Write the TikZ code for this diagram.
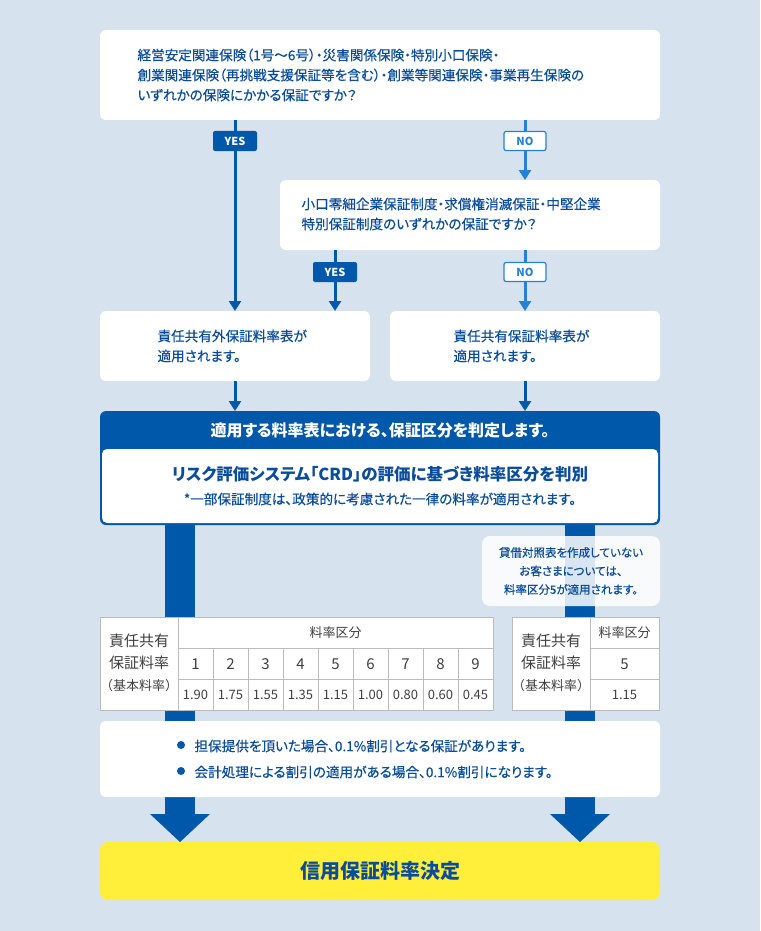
\documentclass[tikz,border=0pt]{standalone}
\usepackage{fontspec}
\setmainfont{Noto Sans CJK JP}[RawFeature=+palt,FakeBold=0.4,BoldFeatures={FakeBold=0}]
\newfontfamily\plainfont{Noto Sans CJK JP}
\usetikzlibrary{arrows.meta}
\definecolor{bg}{HTML}{D6E2EE}
\definecolor{db}{HTML}{0058AA}
\definecolor{lb}{HTML}{2580D8}
\definecolor{tb}{HTML}{0A4C9C}
\definecolor{yl}{HTML}{FFEF3A}
\definecolor{gr}{HTML}{BBBBBB}
\tikzset{
 wbox/.style={fill=white,rounded corners=6pt,draw=none},
 qtext/.style={text=tb,font=\fontsize{13.6}{20}\selectfont,align=left,anchor=west},
 darr/.style={draw=db,line width=3pt,-{Triangle[width=12pt,length=10pt]}},
 larr/.style={draw=lb,line width=3pt,-{Triangle[width=12pt,length=10pt]}},
 yestag/.style={fill=db,text=white,rounded corners=2pt,minimum width=44pt,minimum height=20pt,inner sep=0pt,font=\fontsize{11}{11}\selectfont\bfseries},
 notag/.style={fill=white,draw=lb,line width=1.2pt,text=lb,rounded corners=2pt,minimum width=42pt,minimum height=19pt,inner sep=0pt,font=\fontsize{11}{11}\selectfont\bfseries},
 cell/.style={draw=gr,fill=white,line width=0.8pt},
 ctext/.style={text=black!75,font=\plainfont\fontsize{15}{18}\selectfont,align=center},
 stext/.style={text=black!75,font=\plainfont\fontsize{13}{16}\selectfont,align=center},
}
\begin{document}
\begin{tikzpicture}[x=1pt,y=-1pt]
\fill[bg] (0,0) rectangle (760,931);
\useasboundingbox (0,0) rectangle (760,931);
% thick bars
\fill[db] (165,525) rectangle (195,815);
\fill[db] (565,525) rectangle (595,815);
\fill[db] (150,814) -- (210,814) -- (180,842) -- cycle;
\fill[db] (550,814) -- (610,814) -- (580,842) -- cycle;
% boxes
\fill[wbox] (100,30) rectangle (660,120);
\node[qtext] (q1) at (134,75) {経営安定関連保険（1号～6号）・災害関係保険・特別小口保険・\\創業関連保険（再挑戦支援保証等を含む）・創業等関連保険・事業再生保険の\\いずれかの保険にかかる保証ですか？};
\fill[wbox] (280,180) rectangle (660,250);
\node[qtext] (q2) at (298,214) {小口零細企業保証制度・求償権消滅保証・中堅企業\\特別保証制度のいずれかの保証ですか？};
\fill[wbox] (100,311) rectangle (370,381);
\node[qtext] (r1) at (154,346) {責任共有外保証料率表が\\適用されます。};
\fill[wbox] (390,311) rectangle (660,381);
\node[qtext] (r2) at (450,346) {責任共有保証料率表が\\適用されます。};
\coordinate (a1) at (235,120); \coordinate (a1e) at (235,311);
\coordinate (b1) at (525,120); \coordinate (b1e) at (525,180);
\coordinate (a2) at (335,250); \coordinate (a2e) at (335,311);
\coordinate (b2) at (525,250); \coordinate (b2e) at (525,311);
\coordinate (c1) at (235,381); \coordinate (c1e) at (235,411);
\coordinate (c2) at (525,381); \coordinate (c2e) at (525,411);
\draw[darr] (a1) -- (a1e);
\draw[larr] (b1) -- (b1e);
\draw[darr] (a2) -- (a2e);
\draw[larr] (b2) -- (b2e);
\draw[darr] (c1) -- (c1e);
\draw[darr] (c2) -- (c2e);
\node[yestag] (y1) at (235,141) {YES};
\node[notag] (n1) at (525,141) {NO};
\node[yestag] (y2) at (335,272) {YES};
\node[notag] (n2) at (525,272) {NO};
% judgement box
\fill[db,rounded corners=6pt] (100,411) rectangle (660,525);
\fill[white,rounded corners=5pt] (102,449) rectangle (658,523);
\node[text=white,font=\fontsize{16}{15}\selectfont\bfseries] (h) at (380,430) {適用する料率表における、保証区分を判定します。};
\node[text=tb,font=\fontsize{16.5}{15}\selectfont\bfseries] (h2) at (380,474) {リスク評価システム「CRD」の評価に基づき料率区分を判別};
\node[text=tb,font=\fontsize{13.6}{13}\selectfont] (h3) at (380,499) {*一部保証制度は、政策的に考慮された一律の料率が適用されます。};
% note
\fill[white,opacity=0.85,rounded corners=8pt] (482,536) rectangle (660,606);
\node[text=tb,font=\fontsize{11.5}{18.5}\selectfont,align=center] (note) at (571,571) {貸借対照表を作成していない\\お客さまについては、\\料率区分5が適用されます。};
% table 1
\draw[cell] (100,617) rectangle (178,710);
\node[ctext,font=\plainfont\fontsize{15}{22}\selectfont] (t1) at (139,663) {責任共有\\保証料率\\\fontsize{13}{22}\selectfont（基本料率）};
\draw[cell] (178,617) rectangle (493,648);
\node[stext] (t1h) at (335.5,633) {料率区分};
\foreach \i/\v in {1/1.90,2/1.75,3/1.55,4/1.35,5/1.15,6/1.00,7/0.80,8/0.60,9/0.45}{
 \pgfmathsetmacro{\xl}{178+35*(\i-1)}
 \draw[cell] (\xl,648) rectangle ++(35,31);
 \draw[cell] (\xl,679) rectangle ++(35,31);
 \node[ctext] (k\i) at (\xl+17.5,664) {\i};
 \node[stext] (v\i) at (\xl+17.5,695) {\v};
}
% table 2
\draw[cell] (512,617) rectangle (590,710);
\node[ctext,font=\plainfont\fontsize{15}{22}\selectfont] (t2) at (551,663) {責任共有\\保証料率\\\fontsize{13}{22}\selectfont（基本料率）};
\draw[cell] (590,617) rectangle (659,648);
\draw[cell] (590,648) rectangle (659,679);
\draw[cell] (590,679) rectangle (659,710);
\node[stext] (t2h) at (624.5,633) {料率区分};
\node[ctext] (t2k) at (624.5,664) {5};
\node[stext] (t2v) at (624.5,695) {1.15};
% discount box
\fill[wbox] (100,721) rectangle (660,797);
\fill[db] (181,745) circle (4);
\fill[db] (181,771) circle (4);
\node[qtext] (d1) at (191,746) {担保提供を頂いた場合、0.1\%割引となる保証があります。};
\node[qtext] (d2) at (191,772) {会計処理による割引の適用がある場合、0.1\%割引になります。};
% final
\fill[yl,rounded corners=8pt] (100,842) rectangle (660,900);
\node[text=tb,font=\fontsize{20}{20}\selectfont\bfseries] (fin) at (380,871) {信用保証料率決定};
\end{tikzpicture}
\end{document}
